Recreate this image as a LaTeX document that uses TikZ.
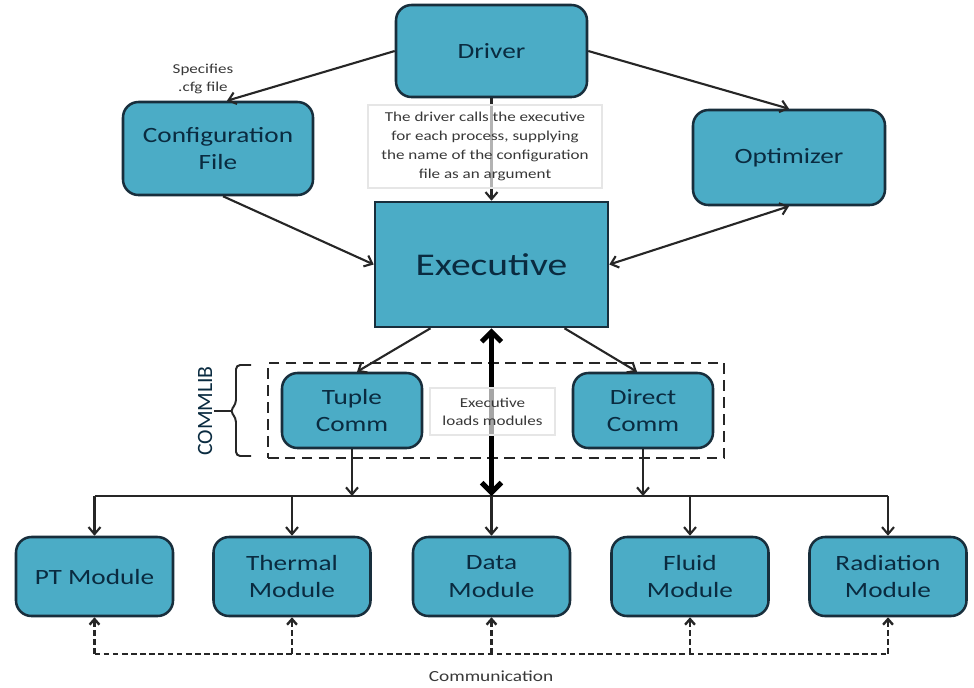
\documentclass[tikz,border=0pt]{standalone}
\usepackage{fontspec}
\setmainfont[FakeStretch=1.25]{Carlito}
\newfontfamily\plainfont{Carlito}
\usetikzlibrary{arrows.meta,calc}
\definecolor{boxfill}{HTML}{4BACC6}
\definecolor{boxedge}{HTML}{182E3C}
\definecolor{boxtext}{HTML}{0A2B40}
\definecolor{lbltext}{HTML}{383838}
\definecolor{faintedge}{HTML}{E6E6E6}
\begin{document}
\begin{tikzpicture}[x=0.025cm,y=-0.025cm,
  sz/.style 2 args={minimum width=#1*0.025cm, minimum height=#2*0.025cm},
  blk/.style={draw=boxedge, line width=1.8pt, fill=boxfill, text=boxtext,
    rounded corners=11pt, inner sep=0pt, align=center,
    font=\fontsize{15.5}{19.5}\selectfont},
  lbl/.style={text=lbltext, align=center, inner sep=0pt,
    font=\fontsize{9.7}{12.8}\selectfont},
  notebox/.style={draw=faintedge, line width=0.8pt, fill=white, fill opacity=0.65,
    text opacity=1, inner sep=0pt},
  arr/.style={-{Straight Barb[length=5pt,width=8.5pt]}, line width=1.5pt, draw=black!85},
  biarr/.style={{Straight Barb[length=5pt,width=8.5pt]}-{Straight Barb[length=5pt,width=8.5pt]},
    line width=1.5pt, draw=black!85},
  thickarr/.style={{Straight Barb[length=7pt,width=14pt]}-{Straight Barb[length=7pt,width=14pt]},
    line width=3.6pt, draw=black},
  busline/.style={line width=1.5pt, draw=black!85},
  dsharr/.style={-{Straight Barb[length=4pt,width=7pt]}, line width=1.7pt,
    draw=black!85, dash pattern=on 4pt off 2.5pt},
  dshline/.style={line width=1.7pt, draw=black!85, dash pattern=on 4pt off 2.5pt},
  groupbox/.style={draw=black!85, line width=1.7pt, dash pattern=on 7.5pt off 4.5pt, inner sep=0pt}
]
\useasboundingbox (0,0) rectangle (974,687);

% top level
\node[blk, sz={191}{92}] (drv) at (491.5,51) {Driver};
\node[blk, sz={190}{93}] (cfg) at (218,148.5) {Configuration\\File};
\node[blk, sz={192}{95}] (opt) at (789,157.5) {Optimizer};
\node[blk, rounded corners=0pt, sz={233}{125}, font=\fontsize{22.5}{26}\selectfont] (exe) at (491.5,264.5) {Executive};

\node[lbl] (spec) at (203,79) {Specifies\\.cfg file};

% driver -> executive with note
\draw[arr] (drv.south) -- (exe.north);
\node[notebox, sz={234}{83}] (note) at (485,146.5) {};
\node[lbl, font=\fontsize{9.7}{13.5}\selectfont] (notetxt) at (note.center)
  {The driver calls the executive\\for each process, supplying\\the name of the configuration\\file as an argument};

\draw[arr] (drv.west) -- ($(cfg.north)+(9,0)$);
\draw[arr] (drv.east) -- (opt.north);
\draw[arr] ($(cfg.south)+(5,0)$) -- (exe.west);
\draw[biarr] (opt.south) -- (exe.east);

% COMMLIB group
\node[groupbox, sz={456}{95}] (grp) at (496,410.5) {};
\node[blk, sz={140}{75}] (tup) at (352,410.5) {Tuple\\Comm};
\node[blk, sz={140}{75}] (dir) at (643,410.5) {Direct\\Comm};
\draw[arr] ($(exe.south)+(-61,0)$) -- ($(tup.north)+(5,0)$);
\draw[arr] ($(exe.south)+(73,0)$) -- ($(dir.north)+(-6,0)$);

\draw[line width=1.4pt, draw=black!85, rounded corners=3pt]
  (251,365) -- (236,365) -- (236,404) -- (230,411) -- (236,418) -- (236,456) -- (251,456);
\draw[line width=1.4pt, draw=black!85] (231,411) -- (214,411);
\node[rotate=90, text=boxtext, inner sep=0pt, font=\plainfont\fontsize{15.5}{18}\selectfont] (clbl) at (205,411) {COMMLIB};

% bus
\coordinate (busL) at (94.5,496);
\coordinate (busR) at (888,496);
\coordinate (busC) at (491.5,496);
\draw[busline] (busL) -- (busR);
\draw[thickarr] (exe.south) -- (busC);
\node[notebox, sz={125}{47}] (loads) at (492.5,411.5) {};
\node[lbl] (loadstxt) at (loads.center) {Executive\\loads modules};
\draw[arr] (tup.south) -- (tup.south |- busC);
\draw[arr] (dir.south) -- (dir.south |- busC);

% modules
\node[blk, sz={157}{79}] (ptm) at (94.5,576.5) {PT Module};
\node[blk, sz={157}{79}] (thm) at (292,576.5) {Thermal\\Module};
\node[blk, sz={157}{79}] (dam) at (491.5,576.5) {Data\\Module};
\node[blk, sz={157}{79}] (flm) at (690,576.5) {Fluid\\Module};
\node[blk, sz={157}{79}] (ram) at (888,576.5) {Radiation\\Module};

\foreach \m in {ptm,thm,dam,flm,ram}{
  \draw[arr] (\m.north |- busC) -- (\m.north);
}

% communication
\coordinate (cL) at (94.5,654);
\coordinate (cR) at (888,654);
\draw[dshline] (cL) -- (cR);
\foreach \m in {ptm,thm,dam,flm,ram}{
  \draw[dsharr] (\m.south |- cL) -- (\m.south);
}
\node[lbl, font=\fontsize{11}{12}\selectfont] (comm) at (491,676) {Communication};
\end{tikzpicture}
\end{document}
